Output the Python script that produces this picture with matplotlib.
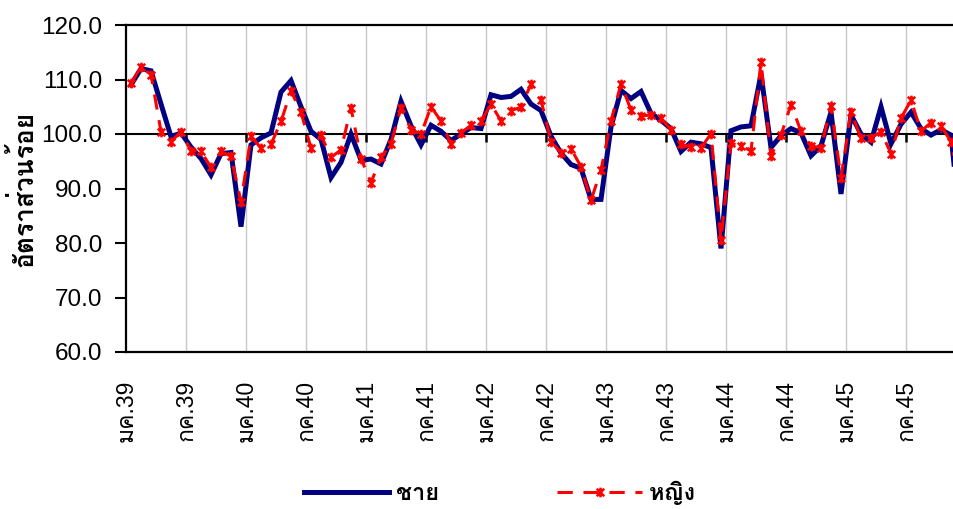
import matplotlib
matplotlib.use("Agg")
import matplotlib.pyplot as plt
from matplotlib import font_manager
from matplotlib.ft2font import FT2Font
from matplotlib.path import Path

# monthly ratio, มค.39 .. ธค.45
male = [109.0, 112.0, 111.6, 105.5, 99.5, 100.2, 97.6, 95.5, 92.5, 96.4, 96.6, 83.0,
        98.0, 99.3, 100.2, 107.7, 109.8, 105.0, 100.5, 99.0, 92.0, 94.8, 100.0, 95.2,
        95.4, 94.5, 99.0, 106.0, 101.5, 98.0, 101.6, 100.5, 98.8, 100.0, 101.2, 101.0,
        107.2, 106.7, 106.9, 108.2, 105.5, 104.3, 99.6, 96.5, 94.4, 93.7, 88.0, 88.0,
        101.3, 108.0, 106.5, 107.8, 103.8, 102.5, 101.0, 96.8, 98.5, 98.2, 97.5, 79.0,
        100.6, 101.3, 101.5, 111.0, 97.5, 99.7, 101.0, 100.2, 96.0, 97.8, 104.0, 89.0,
        103.5, 100.0, 98.5, 105.0, 98.2, 101.8, 104.0, 101.0, 99.8, 100.8, 99.8, 82.0]
female = [109.3, 112.3, 110.9, 100.4, 98.6, 100.4, 96.9, 96.8, 93.9, 96.8, 95.9, 87.6,
          99.6, 97.4, 98.1, 102.3, 107.9, 104.0, 97.4, 99.8, 95.7, 97.1, 104.8, 95.5,
          91.1, 95.7, 98.2, 104.8, 100.8, 100.0, 105.0, 102.4, 98.1, 100.2, 101.6, 102.3,
          105.5, 102.4, 104.3, 104.9, 109.2, 106.3, 98.6, 96.6, 97.3, 94.0, 87.8, 93.4,
          102.4, 109.2, 104.4, 103.3, 103.5, 102.9, 100.8, 98.1, 97.6, 97.5, 100.0, 80.6,
          98.3, 97.8, 96.9, 113.2, 96.0, 99.8, 105.4, 100.5, 97.8, 97.5, 105.2, 92.0,
          104.1, 99.2, 99.3, 100.4, 96.4, 102.9, 106.2, 100.5, 102.1, 101.5, 98.6, 90.0]
tick_labels = ["มค.39", "กค.39", "มค.40", "กค.40", "มค.41", "กค.41", "มค.42",
               "กค.42", "มค.43", "กค.43", "มค.44", "กค.44", "มค.45", "กค.45"]
series_names = ["ชาย", "หญิง"]


def find_thai_font():
    # any installed font that has Thai glyphs
    found = []
    for f in font_manager.fontManager.ttflist:
        try:
            if 0x0E01 in FT2Font(f.fname).get_charmap():
                found.append(f.name)
        except Exception:
            pass
    return found


thai = find_thai_font()
plt.rcParams['font.family'] = ['Liberation Sans'] + thai[:1] + ['DejaVu Sans']

star = Path([(-1, -1), (1, 1), (-1, 1), (1, -1), (0, -1.3), (0, 1.3)],
            [Path.MOVETO, Path.LINETO, Path.MOVETO, Path.LINETO, Path.MOVETO, Path.LINETO])

fig = plt.figure(figsize=(9.54, 5.09), dpi=100)
ax = fig.add_axes([126 / 954, 157 / 509, 840 / 954, 327 / 509])

n = len(male)
xs = [i + 0.5 for i in range(n)]

ax.plot(xs, male, color='#000080', lw=3.6, solid_joinstyle='miter', label=series_names[0], zorder=3)
ax.plot(xs, female, color='#ff0000', lw=2.2, dashes=(5, 3.5), marker=star, ms=7,
        mec='#ff0000', mfc='none', mew=1.8, label=series_names[1], zorder=4)

ax.set_xlim(0, n)
ax.set_ylim(60, 120)
ax.set_yticks(range(60, 121, 10))
ax.set_yticklabels([f"{v:.1f}" for v in range(60, 121, 10)], fontsize=17.5)
ax.tick_params(axis='y', direction='out', length=8, width=1.5, pad=9)

pos = list(range(0, n, 6))
ax.set_xticks(pos)
ax.set_xticklabels(tick_labels, rotation=90, fontsize=16.5, va='top', ha='center')
ax.tick_params(axis='x', length=0, pad=20)

for x in pos[1:]:
    ax.axvline(x, color='#c8c8c8', lw=1, zorder=1)
ax.axhline(100, color='black', lw=1.5, zorder=2)
ax.vlines(pos[1:], 98.6, 100, color='black', lw=1.8, zorder=2)

for s in ['left', 'bottom', 'top', 'right']:
    ax.spines[s].set_linewidth(1.6)
    ax.spines[s].set_color('black')

ax.set_ylabel("อัตราส่วนร้อย", fontsize=19, fontweight='bold')
ax.yaxis.set_label_coords(-88 / 840, 0.5)

fig.legend(loc='center', bbox_to_anchor=(500 / 954, 1 - 493 / 509), ncol=2, frameon=False,
           prop={'size': 17, 'weight': 'bold'}, handlelength=3.6, handletextpad=0.3,
           columnspacing=5.0, numpoints=1)

fig.savefig("out.png", dpi=100)
